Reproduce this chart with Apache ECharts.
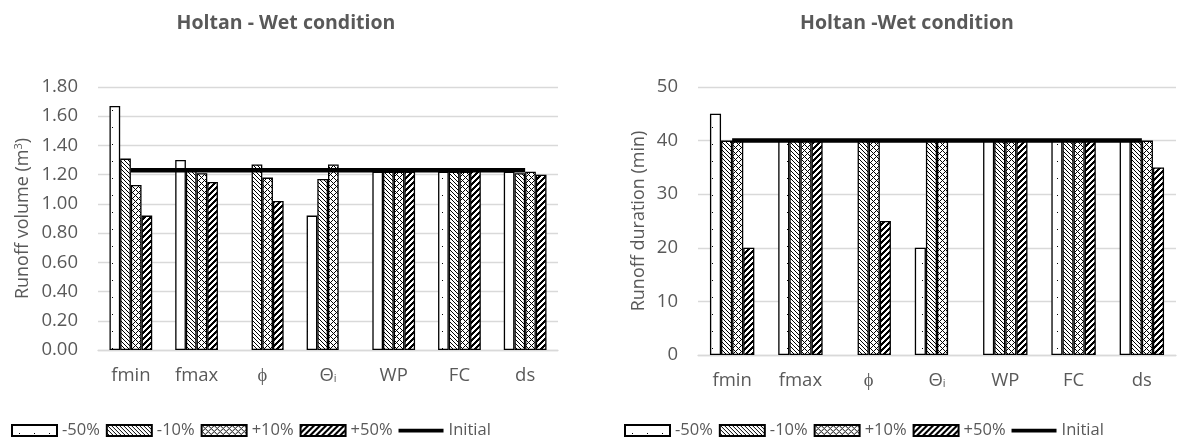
<!DOCTYPE html>
<html>
<head>
<meta charset="utf-8">
<script src="https://cdn.jsdelivr.net/npm/echarts@6/dist/echarts.min.js"></script>
<style>
html,body{margin:0;padding:0;background:#fff;}
#c{width:1183px;height:442px;}
</style>
</head>
<body>
<div id="c"></div>
<script>
// ---- data ----
var categories = ['fmin', 'fmax', 'ϕ', 'Θi', 'WP', 'FC', 'ds'];
var seriesNames = ['-50%', '-10%', '+10%', '+50%', 'Initial'];

var volMinus50 = [1.67, 1.30, null, 0.92, 1.22, 1.22, 1.22];
var volMinus10 = [1.31, 1.24, 1.27, 1.17, 1.22, 1.22, 1.21];
var volPlus10  = [1.13, 1.21, 1.18, 1.27, 1.22, 1.22, 1.22];
var volPlus50  = [0.92, 1.15, 1.02, null, 1.22, 1.24, 1.20];
var volInitial = [1.23, 1.23, 1.23, 1.23, 1.23, 1.23, 1.23];

var durMinus50 = [45, 40, null, 20, 40, 40, 40];
var durMinus10 = [40, 40, 40, 40, 40, 40, 40];
var durPlus10  = [40, 40, 40, 40, 40, 40, 40];
var durPlus50  = [20, 40, 25, null, 40, 40, 35];
var durInitial = [40, 40, 40, 40, 40, 40, 40];

var volTicks = { min: 0, max: 1.8, interval: 0.2 };
var durTicks = { min: 0, max: 50, interval: 10 };

// ---- patterns ----
function makePattern(w, h, fn) {
  var c = document.createElement('canvas');
  c.width = w; c.height = h;
  var ctx = c.getContext('2d');
  ctx.fillStyle = '#fff';
  ctx.fillRect(0, 0, w, h);
  ctx.fillStyle = '#000';
  for (var y = 0; y < h; y++) for (var x = 0; x < w; x++) if (fn(x, y)) ctx.fillRect(x, y, 1, 1);
  return { image: c, repeat: 'repeat' };
}
function mod(a, n) { return ((a % n) + n) % n; }
var patDots = makePattern(15, 17, function (x, y) { return (x === 7 && y === 8); });
var patBack = makePattern(4, 4, function (x, y) { return mod(x - y, 4) === 0; });
var patCross = makePattern(6, 6, function (x, y) { return mod(x - y, 6) === 0 || mod(x + y, 6) === 0; });
var patFwd = makePattern(6, 6, function (x, y) { return mod(x + y, 6) < 3; });
var patterns = [patDots, patBack, patCross, patFwd];

var txt = '#595959';
var FONT = 'Open Sans';

function barSeries(name, data, idx, pat) {
  return {
    name: name, type: 'bar', xAxisIndex: idx, yAxisIndex: idx, data: data,
    barGap: '0%', barCategoryGap: '35%',
    itemStyle: { color: pat, borderColor: '#000', borderWidth: 1.3 },
    emphasis: { disabled: true }, animation: false
  };
}
function lineSeries(data, idx) {
  return {
    name: 'Initial', type: 'line', xAxisIndex: idx, yAxisIndex: idx, data: data,
    symbol: 'none', lineStyle: { color: '#000', width: 4.5 }, itemStyle: { color: '#000' },
    z: 5, animation: false
  };
}

function xAxisCfg(idx) {
  return {
    type: 'category', gridIndex: idx, data: categories,
    axisLine: { lineStyle: { color: '#d9d9d9', width: 1.3 } },
    axisTick: { show: false },
    axisLabel: {
      interval: 0,
      color: txt, fontFamily: FONT, fontSize: 18.5, margin: 16,
      formatter: function (v) { return v === 'Θi' ? '{t|Θ}{s|i}' : v; },
      rich: {
        t: { color: txt, fontFamily: FONT, fontSize: 18.5 },
        s: { color: txt, fontFamily: FONT, fontSize: 11, padding: [6, 0, 0, 0] }
      }
    }
  };
}
function yAxisCfg(idx, ticks, name, gap, dec) {
  return {
    type: 'value', gridIndex: idx, min: ticks.min, max: ticks.max, interval: ticks.interval,
    name: name, nameLocation: 'middle', nameGap: gap, nameRotate: 90,
    nameTextStyle: { color: txt, fontFamily: FONT, fontSize: 18, rich: { sup: { fontSize: 11, color: txt, fontFamily: FONT, padding: [0, 0, 8, 0] } } },
    axisLine: { show: false }, axisTick: { show: false },
    splitLine: { lineStyle: { color: '#d9d9d9', width: 1.3 } },
    axisLabel: { color: txt, fontFamily: FONT, fontSize: 18.5, margin: 20,
      formatter: function (v) { return v.toFixed(dec); } }
  };
}
function legendCfg(left) {
  return {
    left: left, top: 422, padding: 0, itemGap: 6, itemWidth: 45, itemHeight: 11,
    icon: 'rect',
    data: seriesNames.map(function (n) { return n === 'Initial' ? { name: n, icon: 'path://M0,0 L48,0 L48,4 L0,4 Z' } : { name: n }; }),
    textStyle: { color: txt, fontFamily: FONT, fontSize: 16.5 },
    selectedMode: false
  };
}

var chart = echarts.init(document.getElementById('c'), null, { renderer: 'canvas' });
var option = {
  backgroundColor: '#fff',
  animation: false,
  title: [
    { text: 'Holtan - Wet condition', left: 286, top: 13, textAlign: 'center', padding: 0,
      textStyle: { color: txt, fontFamily: FONT, fontSize: 19.5, fontWeight: 'bold' } },
    { text: 'Holtan -Wet condition', left: 907, top: 13, textAlign: 'center', padding: 0,
      textStyle: { color: txt, fontFamily: FONT, fontSize: 19.5, fontWeight: 'bold' } }
  ],
  legend: [legendCfg(11), legendCfg(624)],
  grid: [
    { left: 98, top: 87, width: 460, height: 263 },
    { left: 698, top: 87, width: 478, height: 268 }
  ],
  xAxis: [xAxisCfg(0), xAxisCfg(1)],
  yAxis: [
    yAxisCfg(0, volTicks, 'Runoff volume (m{sup|3})', 66, 2),
    yAxisCfg(1, durTicks, 'Runoff duration (min)', 50, 0)
  ],
  series: [
    barSeries('-50%', volMinus50, 0, patterns[0]),
    barSeries('-10%', volMinus10, 0, patterns[1]),
    barSeries('+10%', volPlus10, 0, patterns[2]),
    barSeries('+50%', volPlus50, 0, patterns[3]),
    lineSeries(volInitial, 0),
    barSeries('-50%', durMinus50, 1, patterns[0]),
    barSeries('-10%', durMinus10, 1, patterns[1]),
    barSeries('+10%', durPlus10, 1, patterns[2]),
    barSeries('+50%', durPlus50, 1, patterns[3]),
    lineSeries(durInitial, 1)
  ]
};
chart.setOption(option);
</script>
</body>
</html>
